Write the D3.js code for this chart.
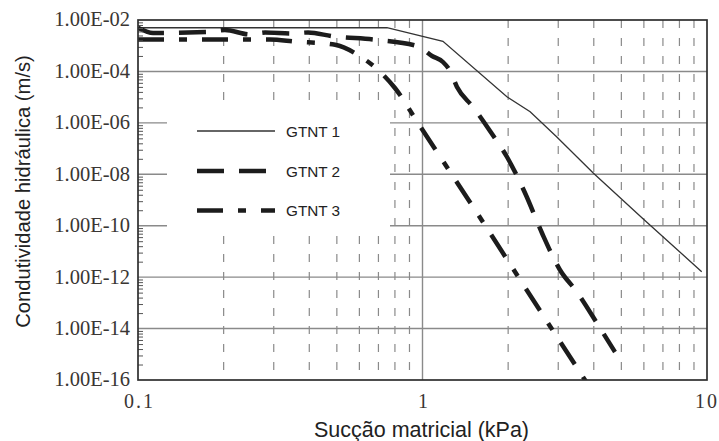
<!DOCTYPE html>
<html>
<head>
<meta charset="utf-8">
<script src="https://cdn.jsdelivr.net/npm/d3@7"></script>
<style>
  body { margin: 0; background: #fff; }
  svg { display: block; }
</style>
</head>
<body>
<svg id="chart" width="719" height="441"></svg>
<script>
// Hydraulic conductivity curves (k, m/s) against matric suction (kPa)
const seriesNames = ["GTNT 1", "GTNT 2", "GTNT 3"];

const suctionGTNT1 = [0.1, 0.75, 1.18, 1.98, 2.39, 2.96, 3.99, 5.97, 9.58];
const kGTNT1 = [5.0e-3, 5.0e-3, 1.49e-3, 1.04e-5, 2.72e-6, 2.90e-7, 1.09e-8, 1.82e-10, 1.63e-12];

const suctionGTNT2 = [0.1, 0.113, 0.176, 0.202, 0.248, 0.28, 0.348, 0.396, 0.485, 0.681, 0.964,
                      1.08, 1.18, 1.25, 1.322, 1.505, 1.727, 1.982, 2.293, 2.63, 3.043, 3.49, 4.206, 4.75];
const kGTNT2 = [5.0e-3, 3.12e-3, 3.41e-3, 4.08e-3, 2.73e-3, 3.27e-3, 2.99e-3, 3.27e-3, 2.32e-3, 1.71e-3, 9.5e-4,
                3.98e-4, 2.33e-4, 1.04e-4, 2.48e-5, 4.14e-6, 4.82e-7, 4.70e-8, 1.87e-9, 5.21e-11, 1.90e-12, 2.64e-13, 1.05e-14, 1.23e-15];

const suctionGTNT3 = [0.1, 0.291, 0.356, 0.493, 0.603, 0.698, 0.80, 0.964, 1.555, 2.76, 3.88];
const kGTNT3 = [1.75e-3, 1.75e-3, 1.46e-3, 1.09e-3, 3.87e-4, 1.14e-4, 2.27e-5, 9.86e-7, 3.12e-10, 1.66e-14, 5.0e-17];

const xTickValues = [0.1, 1, 10];
const xTickLabels = ["0.1", "1", "10"];
const yTickValues = [1e-2, 1e-4, 1e-6, 1e-8, 1e-10, 1e-12, 1e-14, 1e-16];
const yTickLabels = ["1.00E-02", "1.00E-04", "1.00E-06", "1.00E-08", "1.00E-10", "1.00E-12", "1.00E-14", "1.00E-16"];

const xTitle = "Sucção matricial (kPa)";
const yTitle = "Condutividade hidráulica (m/s)";

// ---- layout ----
const svg = d3.select("#chart");
const plotLeft = 138, plotTop = 20, plotRight = 707, plotBottom = 380;

const x = d3.scaleLog().domain([0.1, 10]).range([plotLeft, plotRight]);
const y = d3.scaleLog().domain([1e-2, 1e-16]).range([plotTop, plotBottom]);

const gridColor = "#8a8a8a";
const inkColor = "#222";

// ---- grid ----
const grid = svg.append("g");

// dashed verticals at 2..9 of each decade
const minorX = [];
[0.1, 1].forEach(dec => { for (let m = 2; m <= 9; m++) minorX.push(+(m * dec).toFixed(2)); });
grid.selectAll("line.vminor").data(minorX).enter().append("line")
  .attr("x1", d => x(d)).attr("x2", d => x(d))
  .attr("y1", plotTop).attr("y2", plotBottom)
  .attr("stroke", gridColor).attr("stroke-width", 1.2)
  .attr("stroke-dasharray", "8,10");

// solid vertical at 1 kPa
grid.append("line")
  .attr("x1", x(1)).attr("x2", x(1)).attr("y1", plotTop).attr("y2", plotBottom)
  .attr("stroke", gridColor).attr("stroke-width", 1.4);

// solid horizontals at labelled decades
grid.selectAll("line.hmajor").data(yTickValues.slice(1, -1)).enter().append("line")
  .attr("x1", plotLeft).attr("x2", plotRight)
  .attr("y1", d => y(d)).attr("y2", d => y(d))
  .attr("stroke", gridColor).attr("stroke-width", 1.4);

// ---- legend background (hides the grid behind the key) ----
svg.append("rect")
  .attr("x", 167).attr("y", 107).attr("width", 223).attr("height", 126)
  .attr("fill", "#fff");

// ---- curves ----
svg.append("clipPath").attr("id", "plotClip")
  .append("rect").attr("x", plotLeft).attr("y", plotTop)
  .attr("width", plotRight - plotLeft).attr("height", plotBottom - plotTop);

const styles = [
  { width: 1.3, dash: null, color: "#333", curve: d3.curveLinear },
  { width: 4.5, dash: "27,15", color: "#1c1c1c", curve: d3.curveMonotoneX },
  { width: 4.5, dash: "26,15,8,15", color: "#1c1c1c", curve: d3.curveMonotoneX }
];

const series = [
  d3.zip(suctionGTNT1, kGTNT1),
  d3.zip(suctionGTNT2, kGTNT2),
  d3.zip(suctionGTNT3, kGTNT3)
];

const curves = svg.append("g").attr("clip-path", "url(#plotClip)");
series.forEach((pts, i) => {
  const line = d3.line().x(d => x(d[0])).y(d => y(d[1])).curve(styles[i].curve);
  curves.append("path")
    .attr("d", line(pts))
    .attr("fill", "none")
    .attr("stroke", styles[i].color)
    .attr("stroke-width", styles[i].width)
    .attr("stroke-dasharray", styles[i].dash);
});

// ---- legend ----
const legendY = [131, 171, 210.5];
const legend = svg.append("g");
seriesNames.forEach((name, i) => {
  legend.append("line")
    .attr("x1", 197).attr("x2", 275)
    .attr("y1", legendY[i]).attr("y2", legendY[i])
    .attr("stroke", styles[i].color)
    .attr("stroke-width", styles[i].width)
    .attr("stroke-dasharray", styles[i].dash);
  legend.append("text")
    .attr("x", 286).attr("y", legendY[i] + 5.6)
    .attr("font-family", "'Liberation Sans', Arial, sans-serif")
    .attr("font-size", 15.3)
    .attr("fill", inkColor)
    .text(name);
});

// ---- axes ----
const serif = "'Liberation Serif', 'Times New Roman', serif";
const labelColor = "#3a3633";

const yAxis = d3.axisLeft(y)
  .tickValues(yTickValues)
  .tickFormat((d, i) => yTickLabels[i])
  .tickSizeInner(0).tickSizeOuter(0).tickPadding(8);
const gy = svg.append("g").attr("transform", `translate(${plotLeft},0)`).call(yAxis);
gy.select(".domain").remove();
gy.selectAll("text")
  .attr("font-family", serif).attr("font-size", 20.5)
  .attr("fill", labelColor).attr("dy", "0.29em");

// inward minor ticks: eight per labelled interval
const minorY = [];
for (let i = 0; i < yTickValues.length - 1; i++) {
  const lo = yTickValues[i + 1];
  for (let m = 2; m <= 9; m++) minorY.push(lo * m * m);
}
const yMinor = d3.axisRight(y).tickValues(minorY).tickFormat("").tickSizeInner(5).tickSizeOuter(0);
const gyMinor = svg.append("g").attr("transform", `translate(${plotLeft},0)`).call(yMinor);
gyMinor.select(".domain").remove();
gyMinor.selectAll("line").attr("stroke", "#555").attr("stroke-width", 1);

const xAxis = d3.axisBottom(x)
  .tickValues(xTickValues)
  .tickFormat((d, i) => xTickLabels[i])
  .tickSizeInner(0).tickSizeOuter(0).tickPadding(14);
const gx = svg.append("g").attr("transform", `translate(0,${plotBottom})`).call(xAxis);
gx.select(".domain").remove();
gx.selectAll("text")
  .attr("font-family", serif).attr("font-size", 20)
  .attr("letter-spacing", "2px")
  .attr("dx", "1")
  .attr("fill", labelColor);
// the last label sits flush against the right edge of the page
gx.selectAll(".tick").filter(d => d === 10).select("text")
  .attr("text-anchor", "end").attr("dx", null).attr("x", 11.5);

// plot frame
svg.append("rect")
  .attr("x", plotLeft).attr("y", plotTop)
  .attr("width", plotRight - plotLeft).attr("height", plotBottom - plotTop)
  .attr("fill", "none").attr("stroke", "#2e2e2e").attr("stroke-width", 1.7);

// ---- axis titles ----
svg.append("text")
  .attr("x", 421.5).attr("y", 436.5)
  .attr("text-anchor", "middle")
  .attr("font-family", "'Liberation Sans', Arial, sans-serif")
  .attr("font-size", 21.5)
  .attr("fill", inkColor)
  .text(xTitle);

svg.append("text")
  .attr("transform", "translate(29.5,191.5) rotate(-90)")
  .attr("text-anchor", "middle")
  .attr("font-family", "'Liberation Sans', Arial, sans-serif")
  .attr("font-size", 20.2)
  .attr("fill", inkColor)
  .text(yTitle);
</script>
</body>
</html>
